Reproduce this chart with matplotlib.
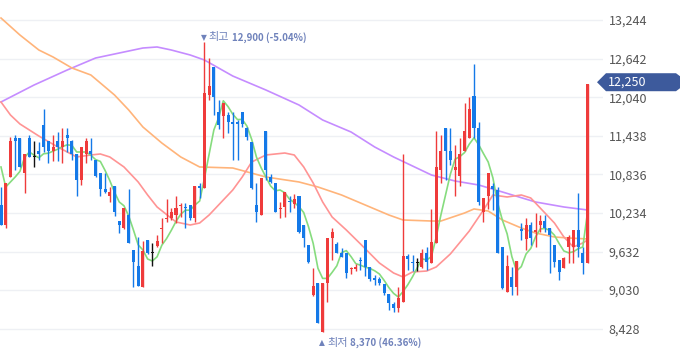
import matplotlib
matplotlib.use('Agg')
import matplotlib.pyplot as plt
import numpy as np
import pandas as pd
from matplotlib.patches import Polygon

plt.rcParams['font.family'] = ['Noto Sans CJK KR', 'DejaVu Sans']

# ---- daily candles (open, high, low, close) ----
opens = [10358, 10046, 10795, 11403, 11403, 10857, 11403, 11107, 11200, 11606,
         11356, 11200, 11356, 11263, 11450, 11356, 11154, 10748, 11154, 11200,
         11060, 10857, 10608, 10498, 10654, 10108, 9999, 10202, 9656, 9406,
         9079, 9812, 9609, 9718, 9984, 10140, 10155, 10202, 10343, 10327,
         10358, 10155, 10654, 10623, 12074, 12511, 11809, 11746, 11762, 11653,
         11653, 11809, 11559, 11341, 10358, 10202, 11512, 10795, 10701, 10296,
         10327, 10420, 10374, 10498, 10046, 9734, 8954, 9141, 8370, 9141,
         9843, 9750, 9609, 9609, 9360, 9360, 9500, 9812, 9391, 9219,
         9204, 9126, 8970, 8814, 8752, 8845, 9562, 9469, 9453, 9391,
         9609, 9453, 9765, 10904, 11559, 11200, 10904, 10810, 11200, 11403,
         12058, 11559, 10249, 10498, 10654, 10592, 9703, 9001, 9235, 9079,
         9984, 9828, 10046, 9937, 10046, 10108, 9999, 9734, 9500, 9375,
         9703, 9703, 9968, 9609, 9453]
highs = [10639, 10701, 11419, 11450, 11403, 11154, 11450, 11356, 11341, 11856,
         11356, 11450, 11497, 11559, 11559, 11372, 11154, 11263, 11403, 11403,
         11060, 10857, 10857, 10639, 10654, 10108, 10311, 10608, 9656, 9859,
         9796, 9812, 9765, 9890, 10155, 10452, 10311, 10498, 10389, 10389,
         10358, 10654, 10701, 12900, 12651, 12511, 11996, 11949, 11809, 11809,
         11684, 11809, 11575, 11341, 10701, 10779, 11512, 10842, 10701, 10405,
         10561, 10498, 10530, 10498, 10046, 9734, 9375, 9141, 9141, 9843,
         9999, 9781, 9687, 9609, 9391, 9437, 9546, 9812, 9391, 9266,
         9235, 9126, 8970, 8845, 9079, 11154, 9593, 9578, 9531, 9671,
         9703, 10296, 11512, 11450, 11559, 11559, 11294, 11403, 11949, 12043,
         12558, 11653, 10467, 10857, 10701, 10639, 9703, 9578, 9391, 9484,
         10077, 10155, 10093, 10233, 10202, 10202, 9999, 9734, 9500, 9546,
         9890, 9968, 10545, 9703, 12250]
lows = [10046, 9999, 10795, 10904, 10951, 10545, 11107, 10951, 11060, 11185,
        11013, 11044, 11044, 11013, 11185, 11060, 10498, 10670, 11013, 11060,
        10795, 10498, 10545, 10405, 10186, 9921, 9984, 9765, 9079, 9094,
        9079, 9593, 9406, 9703, 9765, 10093, 10124, 10077, 10171, 9999,
        10124, 10093, 10467, 10623, 11996, 11762, 11544, 11403, 11481, 11060,
        11060, 11575, 11372, 10608, 10093, 10202, 10748, 10701, 10249, 10155,
        10171, 10249, 10311, 9921, 9703, 9460, 8938, 8517, 8370, 8845,
        9500, 9609, 9546, 9219, 9282, 9328, 9344, 9250, 9173, 9110,
        9110, 8954, 8720, 8689, 8689, 8845, 9344, 9328, 9328, 9375,
        9344, 9453, 9765, 10701, 10748, 10982, 10498, 10654, 11200, 11403,
        11403, 10358, 10093, 10296, 10280, 9609, 9048, 9001, 8954, 8954,
        9812, 9656, 9734, 9703, 9937, 9937, 9297, 9391, 9188, 9375,
        9453, 9453, 9546, 9282, 9453]
closes = [10046, 10701, 11356, 11356, 10951, 11154, 11107, 11107, 11154, 11263,
          11200, 11263, 11263, 11356, 11403, 11154, 10748, 11263, 11356, 11154,
          10810, 10608, 10561, 10561, 10249, 10046, 10311, 9765, 9469, 9094,
          9640, 9609, 9609, 9796, 9999, 10155, 10249, 10311, 10358, 10311,
          10155, 10654, 10623, 12105, 12214, 12043, 11606, 11949, 11653, 11622,
          11622, 11622, 11419, 10623, 10249, 10779, 10904, 10717, 10249, 10311,
          10561, 10405, 10452, 9937, 9843, 9469, 9094, 8517, 9141, 9843,
          9937, 9609, 9546, 9297, 9375, 9391, 9484, 9391, 9204, 9188,
          9141, 8985, 8829, 8752, 8907, 9562, 9516, 9453, 9453, 9609,
          9469, 9781, 10951, 11200, 11200, 11060, 10951, 11154, 11512, 11856,
          11559, 10405, 10467, 10857, 10608, 9609, 9063, 9406, 9079, 9484,
          9952, 10046, 9843, 9968, 10108, 9999, 9890, 9469, 9313, 9531,
          9859, 9968, 9703, 9453, 12250]

# 5-day MA: first values (need earlier history)
ma5_lead = [10951, 10639, 10717, 10795]

# 20 / 60 / 120-day moving averages (candle index, price)
ma20_idx = [0, 2, 4, 8, 12, 16, 19, 21, 23, 26, 29, 31, 33, 37, 40, 42, 44, 46, 49,
            51, 53, 56, 60, 62, 64, 66, 68, 70, 73, 76, 80, 83, 85, 87, 90, 92, 95,
            99, 102, 104, 107, 110, 112, 115, 117, 119, 121, 123, 124]
ma20_val = [11965, 11762, 11622, 11434, 11263, 11107, 11138, 11154, 11107, 10951,
            10717, 10514, 10327, 10093, 10046, 10077, 10202, 10358, 10592, 10795,
            11029, 11138, 11169, 11138, 10951, 10701, 10405, 10171, 9968, 9750,
            9453, 9297, 9235, 9313, 9328, 9391, 9594, 9952, 10280, 10514, 10483,
            10514, 10467, 10233, 10077, 9859, 9703, 9765, 9812]
ma60_idx = [0, 4, 8, 11, 15, 19, 22, 24, 27, 30, 34, 38, 42, 49, 56, 63, 67, 72,
            77, 82, 85, 91, 93, 98, 100, 103, 106, 110, 113, 117, 120, 124]
ma60_val = [13275, 13010, 12776, 12667, 12495, 12386, 12199, 12074, 11840, 11575,
            11325, 11107, 10951, 10935, 10795, 10717, 10639, 10514, 10358, 10202,
            10124, 10108, 10108, 10233, 10296, 10264, 10124, 9999, 9921, 9859,
            9843, 9828]
ma120_idx = [0, 7, 14, 20, 25, 30, 33, 36, 40, 43, 49, 56, 63, 68, 74, 79, 83,
             91, 96, 101, 106, 113, 119, 124]
ma120_val = [11965, 12230, 12464, 12651, 12729, 12807, 12823, 12776, 12698, 12620,
             12370, 12152, 11918, 11684, 11497, 11263, 11107, 10826, 10732, 10670,
             10561, 10405, 10327, 10280]

yticks = [13244, 12642, 12040, 11438, 10836, 10234, 9632, 9030, 8428]
last_price = 12250
high_label = ('최고', '12,900 (-5.04%)')
low_label = ('최저', '8,370 (46.36%)')

# ---- figure ----
W, H = 680, 358
fig = plt.figure(figsize=(W / 100, H / 100), dpi=100)
ax = fig.add_axes([0, 0, 603 / W, 1])
ax.set_xlim(-0.21, 127.27)
ax.set_ylim(7971, 13556)
for s in ax.spines.values():
    s.set_visible(False)
ax.set_xticks([])
ax.yaxis.tick_right()
ax.set_yticks(yticks)
ax.set_yticklabels([f'{v:,}' for v in yticks])
ax.tick_params(axis='y', length=0, pad=4, labelsize=9, labelcolor='#555555')
ax.grid(axis='y', color='#eef0f4', lw=1)
ax.set_axisbelow(True)

n = len(closes)
x = np.arange(n)
o = np.array(opens); c = np.array(closes); h = np.array(highs); l = np.array(lows)
RED, BLUE, BLACK = '#ef3b3b', '#1479e8', '#111111'
cols = np.where(c > o, RED, np.where(c < o, BLUE, BLACK))

# moving averages
ma5 = pd.Series(closes).rolling(5).mean().to_numpy()
ma5[:4] = ma5_lead
ax.plot(ma120_idx, ma120_val, color='#c58cff', lw=1.2, zorder=2)
ax.plot(ma60_idx, ma60_val, color='#ffb47a', lw=1.2, zorder=2)
ax.plot(ma20_idx, ma20_val, color='#ff9494', lw=1.2, zorder=2)
ax.plot(x, ma5, color='#86dc7e', lw=1.2, zorder=2)

# candles
ax.vlines(x, l, h, colors=cols, lw=1.0, zorder=3)
body_bottom = np.minimum(o, c)
body_h = np.maximum(np.abs(c - o), 16)
ax.bar(x, body_h, bottom=body_bottom, width=0.64, color=cols, lw=0, zorder=4)

# high / low annotations
ACOL = '#6f82bb'
ih = int(np.argmax(h)); il = int(np.argmin(l))


def px_to_fig(px, py):
    return px / W, 1 - py / H


def data_px(xi, yv):
    dx, dy = ax.transData.transform((xi, yv))
    return dx, H - dy


fig.canvas.draw()
r = fig.canvas.get_renderer()


def label(xi, yv, dy_px, tri, word, num):
    cx, cy = data_px(xi, yv)
    ty = cy + dy_px
    t0 = fig.text(*px_to_fig(cx - 3.5, ty), tri, fontsize=5.5, color=ACOL,
                  ha='left', va='center', family=['DejaVu Sans'])
    bb = t0.get_window_extent(r)
    t1 = fig.text((bb.x1 + 2) / W, 1 - ty / H, word, fontsize=8, color=ACOL,
                  ha='left', va='center')
    bb = t1.get_window_extent(r)
    fig.text((bb.x1 + 2.5) / W, 1 - ty / H, num, fontsize=7, color=ACOL,
             ha='left', va='center', fontweight='bold')


label(ih, h[ih], -5, '▼', *high_label)
label(il, l[il], 10.5, '▲', *low_label)

# last price tag
_, ly = data_px(n - 1, last_price)
ty = ly - 1.5
pts = [(597, ty), (606, ty - 9), (676, ty - 9), (680, ty - 6), (680, ty + 6),
       (676, ty + 9), (606, ty + 9)]
poly = Polygon([px_to_fig(*p) for p in pts], closed=True, transform=fig.transFigure,
               facecolor='#3d5a9c', edgecolor='none', zorder=5)
fig.patches.append(poly)
fig.text(608 / W, 1 - ty / H, f'{last_price:,}', color='white', fontsize=9,
         ha='left', va='center', zorder=6)

fig.savefig('out.png', dpi=100)
